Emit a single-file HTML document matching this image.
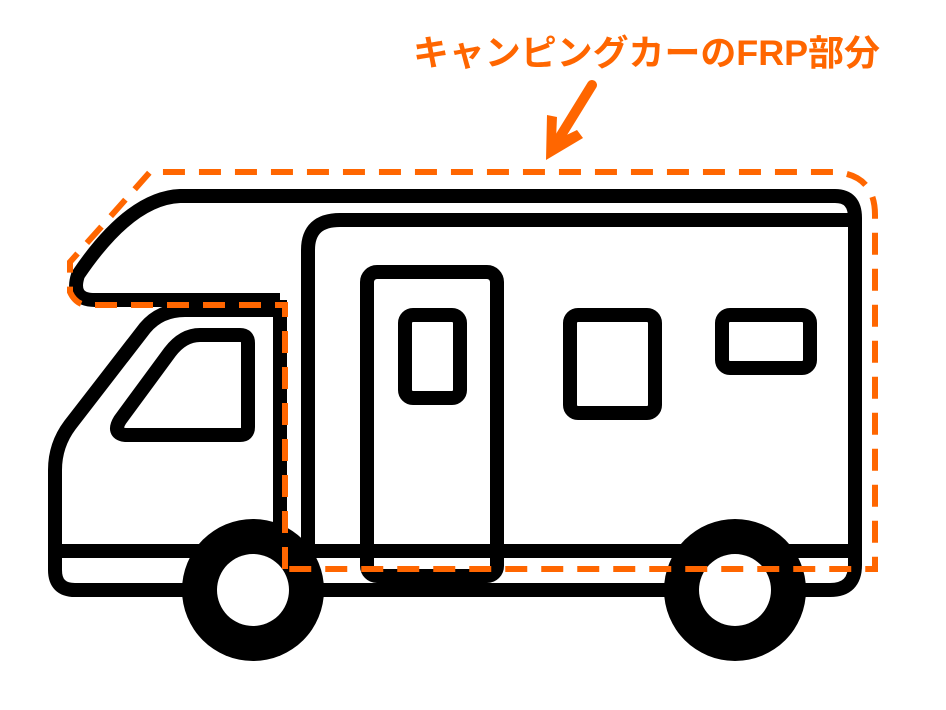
<!DOCTYPE html>
<html><head><meta charset="utf-8"><style>
html,body{margin:0;padding:0;background:#fff;width:946px;height:710px;overflow:hidden}
svg{display:block}
</style></head><body>
<svg width="946" height="710" viewBox="0 0 946 710" xmlns="http://www.w3.org/2000/svg">
<text x="413" y="65" font-family="Liberation Sans, Noto Sans CJK JP, sans-serif" font-weight="bold" font-size="35.5" fill="#ff6600" textLength="467" lengthAdjust="spacingAndGlyphs">キャンピングカーのFRP部分</text>
<g stroke="#ff6600" stroke-width="10" stroke-linecap="round" fill="none">
<line x1="592" y1="85" x2="555" y2="145"/>
</g>
<polygon points="546,160 547,115 557,117 556,140 577,130 583,138" fill="#ff6600"/>
<g fill="none" stroke="#000" stroke-width="14" stroke-linejoin="round">
<path d="M280,300 L95,300 Q70,300 78,275 Q130,198 180,196 L835,196 Q855,196 855,218 L855,565 Q855,590 830,590 L75,590 Q55,590 55,570 L55,470 Q55,445 70,425 L145,328 Q160,310 185,310 L280,310"/>
<path d="M280,300 L280,551"/>
<path d="M308,551 L308,250 Q308,220 340,220 L855,220"/>
<path d="M55,551 L855,551"/>
<path d="M200,335 L240,335 Q248,335 248,343 L248,427 Q248,435 240,435 L125,435 Q112,433 120,420 L170,352 Q183,335 200,335 Z"/>
<rect x="367" y="272" width="130" height="304" rx="10"/>
<rect x="405" y="315" width="55" height="83" rx="8"/>
<rect x="570" y="315" width="85" height="98" rx="8"/>
<rect x="722" y="315" width="88" height="53" rx="8"/>
</g>
<circle cx="253" cy="590" r="71" fill="#000"/>
<circle cx="253" cy="590" r="36" fill="#fff"/>
<circle cx="735" cy="590" r="71" fill="#000"/>
<circle cx="735" cy="590" r="36" fill="#fff"/>
<path d="M285,569 L285,305 L85,305 Q75,303 70,292 L70,262 L150,172 L835,172 Q875,175 875,215 L875,569 Z" fill="none" stroke="#ff6600" stroke-width="6" stroke-dasharray="22,14"/>
</svg>
</body></html>
